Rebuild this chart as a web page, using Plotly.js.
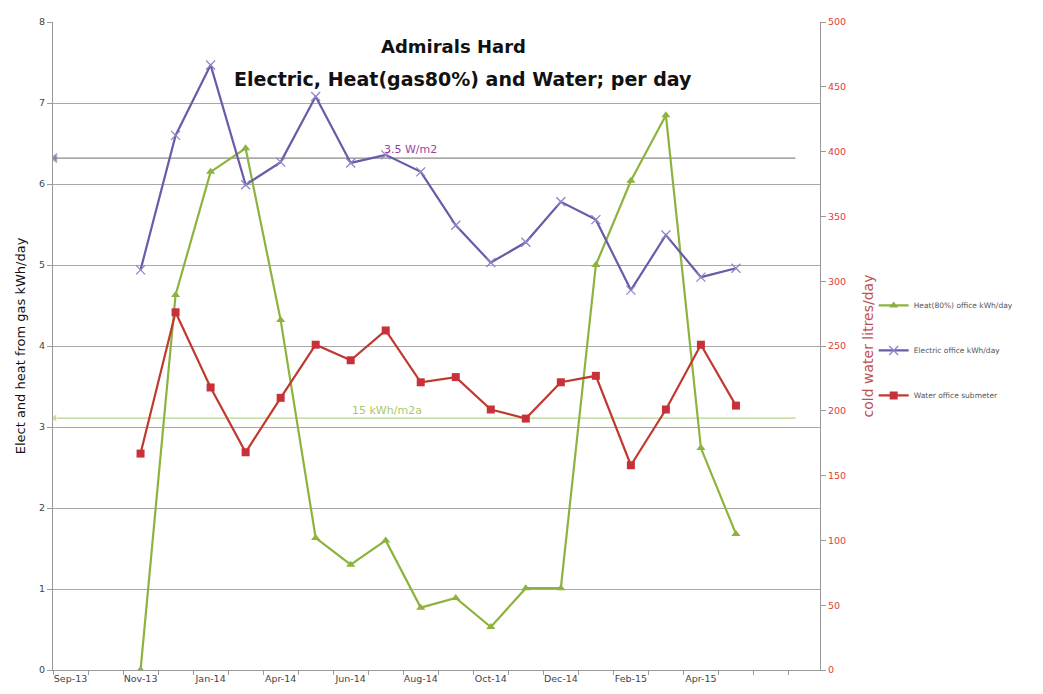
<!DOCTYPE html>
<html>
<head>
<meta charset="utf-8">
<script src="https://cdn.plot.ly/plotly-3.0.1.min.js"></script>
<style>html,body{margin:0;padding:0;background:#fff;}#chart{width:1043px;height:694px;}</style>
</head>
<body>
<div id="chart"></div>
<script>
// Axis categories (one per column of the chart)
var categories = ["Sep-13","Oct-13","Nov-13","Dec-13","Jan-14","Mar-14","Apr-14","May-14","Jun-14","Jul-14",
  "Aug-14","Sep-14","Oct-14","Nov-14","Dec-14","Jan-15","Feb-15","Mar-15","Apr-15","May-15","Jun-15","Jul-15"];
var tickLabels = ["Sep-13","Nov-13","Jan-14","Apr-14","Jun-14","Aug-14","Oct-14","Dec-14","Feb-15","Apr-15"];
// Reading months
var readings = ["Nov-13","Dec-13","Jan-14","Mar-14","Apr-14","May-14","Jun-14","Jul-14","Aug-14","Sep-14",
  "Oct-14","Nov-14","Dec-14","Jan-15","Feb-15","Mar-15","Apr-15","May-15"];
// Series values
var heat = [0, 4.63, 6.15, 6.44, 4.32, 1.63, 1.30, 1.60, 0.77, 0.89, 0.53, 1.01, 1.01, 5.0, 6.04, 6.85, 2.74, 1.68];
var electric = [4.94, 6.60, 7.47, 5.99, 6.27, 7.08, 6.26, 6.36, 6.15, 5.49, 5.03, 5.28, 5.78, 5.56, 4.69, 5.37, 4.85, 4.96];
var water = [167, 276, 218, 168, 210, 251, 239, 262, 222, 226, 201, 194, 222, 227, 158, 201, 251, 204];
// Benchmarks
var electricTarget = 6.32;  // 3.5 W/m2
var heatTarget = 3.11;      // 15 kWh/m2a
var benchmarkSpan = ["Sep-13", "Jun-15"];

var xi = function (c) { return categories.indexOf(c); };
var xr = readings.map(xi);
var tickIdx = tickLabels.map(xi);
var spanX = [xi(benchmarkSpan[0]) - 0.45, xi(benchmarkSpan[1]) + 0.7];

var purple = '#6a5aa8', green = '#8db33f', red = '#c0392f';
var F = 'DejaVu Sans, Liberation Sans, sans-serif';

var traces = [
  {x: spanX, y: [electricTarget, electricTarget], yaxis: 'y', mode: 'lines+markers', showlegend: false,
   line: {color: '#8a8a8a', width: 1.3}, marker: {symbol: ['triangle-left', 'line-ns'], size: [8, 0], color: '#6a5aa8'}, hoverinfo: 'skip'},
  {x: spanX, y: [heatTarget, heatTarget], yaxis: 'y', mode: 'lines+markers', showlegend: false,
   line: {color: '#b9d48b', width: 1.3}, marker: {symbol: ['triangle-left', 'line-ns'], size: [8, 0], color: '#b9d48b'}, hoverinfo: 'skip'},
  {x: xr, y: heat, name: 'Heat(80%) office kWh/day', yaxis: 'y', mode: 'lines+markers', legendgroup: 'a',
   line: {color: green, width: 2.2}, marker: {symbol: 'triangle-up', size: 8, color: green}},
  {x: xr, y: electric, name: 'Electric office kWh/day', yaxis: 'y', mode: 'lines+markers', legendgroup: 'b',
   line: {color: purple, width: 2.2}, marker: {symbol: 'x-thin', size: 9, color: '#8f86c8', line: {color: '#8f86c8', width: 1.3}}},
  {x: xr, y: water, name: 'Water office submeter', yaxis: 'y2', mode: 'lines+markers', legendgroup: 'c',
   line: {color: red, width: 2.2}, marker: {symbol: 'square', size: 8, color: '#c8303a'}}
];

var layout = {
  width: 1043, height: 694,
  margin: {l: 53, r: 223, t: 22, b: 24},
  paper_bgcolor: '#fff', plot_bgcolor: '#fff',
  font: {family: F, size: 9, color: '#444'},
  showlegend: true,
  legend: {x: 1.07, y: 0.585, xanchor: 'left', yanchor: 'top', font: {family: F, size: 7.5, color: '#555'},
    tracegroupgap: 26, traceorder: 'grouped', itemwidth: 30, bgcolor: 'rgba(0,0,0,0)'},
  xaxis: {range: [-0.5, 21.4], tickmode: 'array', tickvals: tickIdx, ticktext: tickLabels,
    ticks: '', showgrid: false, zeroline: false, showline: true, linecolor: '#9a9a9a', linewidth: 1,
    tickfont: {size: 9.5, color: '#444'},
    minor: {tick0: -0.5, dtick: 1, ticks: 'outside', ticklen: 4, tickcolor: '#9a9a9a', showgrid: false}},
  yaxis: {range: [0, 8], dtick: 1, showgrid: true, gridcolor: '#a8a8a8', gridwidth: 1, zeroline: false,
    showline: true, linecolor: '#9a9a9a', ticks: 'outside', ticklen: 5, tickcolor: '#9a9a9a',
    tickfont: {size: 9.5, color: '#444'},
    title: {text: 'Elect and heat from gas kWh/day', font: {size: 13, color: '#111'}, standoff: 10}},
  yaxis2: {range: [0, 500], dtick: 50, overlaying: 'y', side: 'right', showgrid: false, zeroline: false,
    showline: true, linecolor: '#9a9a9a', ticks: 'outside', ticklen: 5, tickcolor: '#9a9a9a',
    tickfont: {size: 9.5, color: '#e0403a'},
    title: {text: 'cold water litres/day', font: {size: 14, color: '#c0504d'}, standoff: 18}},
  annotations: [
    {xref: 'paper', yref: 'paper', x: 0.522, y: 0.982, text: '<b>Admirals Hard</b>', showarrow: false,
     font: {family: F, size: 18, color: '#111'}, xanchor: 'center'},
    {xref: 'paper', yref: 'paper', x: 0.535, y: 0.932, text: '<b>Electric, Heat(gas80%) and Water; per day</b>', showarrow: false,
     font: {family: F, size: 19, color: '#111'}, xanchor: 'center'},
    {xref: 'x', yref: 'y', x: xi('Aug-14') - 0.3, y: electricTarget, yshift: 9, text: '3.5 W/m2', showarrow: false,
     font: {size: 11, color: '#9b3fa6'}},
    {xref: 'x', yref: 'y', x: xi('May-14') + 2.05, y: heatTarget, yshift: 8, text: '15 kWh/m2a', showarrow: false,
     font: {size: 11, color: '#a9c86b'}}
  ]
};

Plotly.newPlot('chart', traces, layout, {displayModeBar: false, staticPlot: true});
</script>
</body>
</html>
